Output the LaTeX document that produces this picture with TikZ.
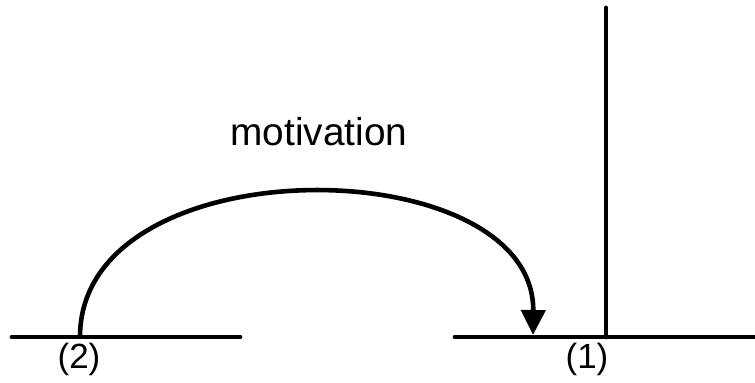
\documentclass[tikz,border=0pt]{standalone}
\usepackage{fontspec}
\setmainfont{Liberation Sans}
\usetikzlibrary{arrows.meta,positioning}

\begin{document}
\begin{tikzpicture}[
    x=0.5pt, y=-0.5pt,
    line/.style={line width=2.4pt, line cap=round},
    arr/.style={-{Triangle[length=12.5pt, width=12pt]}, line width=2.3pt},
    lbl/.style={inner sep=0pt, font=\fontsize{17.5}{20}\selectfont},
    motiv/.style={inner sep=0pt, font=\fontsize{19.4}{22}\selectfont}
]
\useasboundingbox (0,0) rectangle (755,382);
% left level
\coordinate (l1) at (12,337);
\coordinate (l2) at (240,337);
\coordinate (src) at (80,337);
% right level
\coordinate (r1) at (455,337);
\coordinate (r2) at (757,337);
\coordinate (vtop) at (606,8);
\coordinate (vbot) at (606,337);
\coordinate (dst) at (533,335);
\draw[line] (l1) -- (l2);
\draw[line] (r1) -- (r2);
\draw[line] (vtop) -- (vbot);
\draw[arr] (src) .. controls (80,143) and (535,148) .. (dst);
\node[motiv] (mot) at (319,132) {motivation};
\node[lbl] (lab2) at (79,359) {(2)};
\node[lbl] (lab1) at (587,359) {(1)};
\end{tikzpicture}
\end{document}
